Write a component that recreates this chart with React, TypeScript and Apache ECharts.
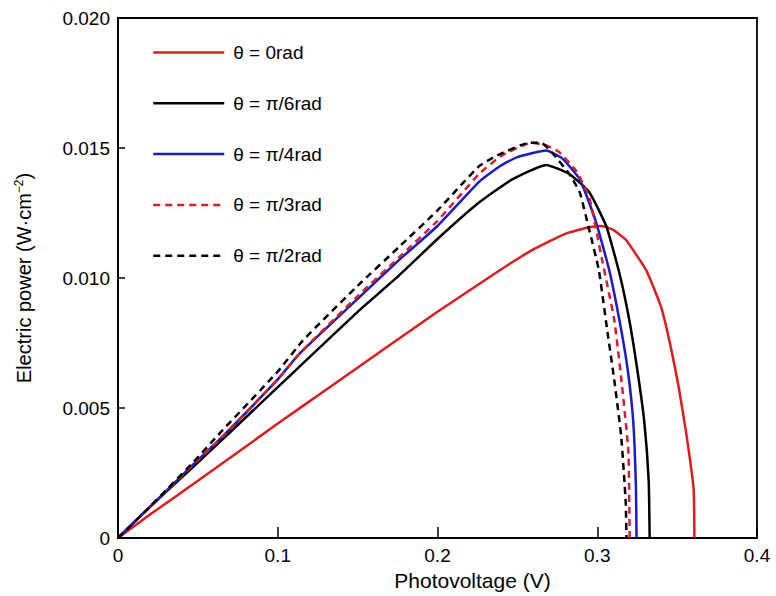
import React, { useEffect, useRef } from "react";
import * as echarts from "echarts";

const seriesNames = ["θ = 0rad", "θ = π/6rad", "θ = π/4rad", "θ = π/3rad", "θ = π/2rad"];

const theta0: [number, number][] = [
  [0, 0], [0.02, 0.0009], [0.05, 0.0022], [0.1, 0.0044], [0.1325, 0.0058], [0.165, 0.0072],
  [0.2, 0.0087], [0.239, 0.0103], [0.26, 0.0111], [0.28, 0.0117], [0.295, 0.01195],
  [0.303, 0.0120], [0.31, 0.01185], [0.318, 0.01146], [0.3306, 0.0103], [0.34, 0.00888],
  [0.346, 0.00735], [0.351, 0.0058], [0.356, 0.0039], [0.3603, 0.0019], [0.3608, 0],
];

const thetaPi6: [number, number][] = [
  [0, 0], [0.02, 0.0012], [0.05, 0.0029], [0.0638, 0.0037], [0.1, 0.0058], [0.11375, 0.0066],
  [0.15, 0.0087], [0.176, 0.0101], [0.2, 0.0115], [0.226, 0.0129], [0.247, 0.0138],
  [0.268, 0.01435], [0.2825, 0.0140], [0.295, 0.0133], [0.3056, 0.0120], [0.3138, 0.0102],
  [0.32, 0.0084], [0.325, 0.0065], [0.3294, 0.0045], [0.3322, 0.0022], [0.3328, 0],
];

const thetaPi4: [number, number][] = [
  [0, 0], [0.02, 0.0012], [0.05, 0.003], [0.0638, 0.0038], [0.1, 0.0061], [0.11375, 0.0071],
  [0.15, 0.0092], [0.176, 0.0107], [0.2, 0.012], [0.226, 0.0137], [0.239, 0.0143],
  [0.25, 0.01465], [0.268, 0.0149], [0.278, 0.0146], [0.289, 0.0138], [0.299, 0.0122],
  [0.3075, 0.0103], [0.3138, 0.0084], [0.319, 0.0065], [0.3225, 0.0045], [0.3242, 0.002],
  [0.3246, 0],
];

const thetaPi3: [number, number][] = [
  [0, 0], [0.02, 0.0012], [0.05, 0.003], [0.0638, 0.0038], [0.1, 0.0061], [0.11375, 0.0071],
  [0.15, 0.0093], [0.176, 0.0108], [0.2, 0.0122], [0.226, 0.0140], [0.24, 0.0147],
  [0.259, 0.0152], [0.268, 0.0151], [0.276, 0.01485], [0.287, 0.0141], [0.295, 0.0131],
  [0.303, 0.0107], [0.3106, 0.0084], [0.3156, 0.0058], [0.3195, 0.0033], [0.3203, 0],
];

const thetaPi2: [number, number][] = [
  [0, 0], [0.02, 0.0012], [0.05, 0.0031], [0.0617, 0.0039], [0.1, 0.0064], [0.1158, 0.0076],
  [0.15, 0.0097], [0.176, 0.0112], [0.2, 0.0126], [0.226, 0.0143], [0.237, 0.0147],
  [0.2575, 0.0152], [0.265, 0.0152], [0.272, 0.0148], [0.2825, 0.0140], [0.289, 0.0133],
  [0.295, 0.01185], [0.301, 0.0103], [0.306, 0.0081], [0.3106, 0.0061], [0.315, 0.0039],
  [0.3178, 0.0014], [0.3183, 0],
];

const xTicks = ["0", "0.1", "0.2", "0.3", "0.4"];
const yTicks = ["0", "0.005", "0.010", "0.015", "0.020"];

export default function App() {
  const ref = useRef<HTMLDivElement>(null);
  useEffect(() => {
    if (!ref.current) return;
    document.body.style.margin = "0";
    const chart = echarts.init(ref.current, undefined, { renderer: "svg" });
    const font = "Liberation Sans, Arial, sans-serif";
    const mk = (name: string, data: [number, number][], color: string, type: any) => ({
      name,
      type: "line",
      data,
      showSymbol: false,
      symbol: "none",
      smooth: 0.15,
      lineStyle: { color, width: 2.5, type },
      itemStyle: { color },
    });
    chart.setOption({
      animation: false,
      backgroundColor: "#fff",
      grid: {
        left: 118, right: 19, top: 18, bottom: 58,
        show: true, borderColor: "#000", borderWidth: 1.8, backgroundColor: "transparent",
      },
      legend: {
        orient: "vertical",
        left: 147,
        top: 38,
        itemWidth: 71,
        itemHeight: 20,
        itemGap: 31.8,
        itemStyle: { opacity: 0 },
        lineStyle: { width: 2.5 },
        textStyle: { fontFamily: font, fontSize: 19, color: "#000", padding: [0, 0, 0, 4] },
        data: seriesNames,
      },
      xAxis: {
        type: "value",
        min: 0, max: 0.4, interval: 0.1,
        name: "Photovoltage (V)",
        nameLocation: "middle",
        nameGap: 25,
        nameTextStyle: { fontFamily: font, fontSize: 21, color: "#000", padding: [0, 0, 0, 70] },
        axisLine: { show: true, lineStyle: { color: "#000", width: 2 } },
        axisTick: { show: true, inside: true, length: 11, lineStyle: { color: "#000", width: 1.5 } },
        axisLabel: {
          fontFamily: font, fontSize: 19, color: "#000", margin: 8,
          formatter: (v: number) => xTicks[Math.round(v * 10)] ?? "",
        },
        splitLine: { show: false },
      },
      yAxis: {
        type: "value",
        min: 0, max: 0.02, interval: 0.005,
        name: "Electric power (W·cm{sup|−2})",
        nameLocation: "middle",
        nameGap: 84,
        nameRotate: 90,
        nameTextStyle: {
          fontFamily: font, fontSize: 20, color: "#000",
          rich: { sup: { fontFamily: font, fontSize: 12, color: "#000", verticalAlign: "top", padding: [0, 0, 9, 0] } },
        },
        axisLine: { show: true, lineStyle: { color: "#000", width: 2 } },
        axisTick: { show: true, inside: true, length: 7, lineStyle: { color: "#000", width: 1.5 } },
        axisLabel: {
          fontFamily: font, fontSize: 19, color: "#000", margin: 8,
          formatter: (v: number) => yTicks[Math.round(v / 0.005)] ?? "",
        },
        splitLine: { show: false },
      },
      series: [
        mk(seriesNames[0], theta0, "#e31a1c", "solid"),
        mk(seriesNames[1], thetaPi6, "#000000", "solid"),
        mk(seriesNames[2], thetaPi4, "#1a1acc", "solid"),
        mk(seriesNames[3], thetaPi3, "#d42026", [7, 5]),
        mk(seriesNames[4], thetaPi2, "#000000", [7, 5]),
      ],
    });
    return () => chart.dispose();
  }, []);
  return <div ref={ref} style={{ width: 776, height: 596 }} />;
}
